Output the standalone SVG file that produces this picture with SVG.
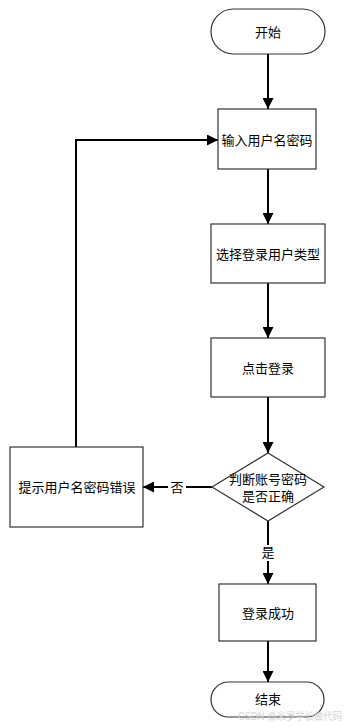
<svg xmlns="http://www.w3.org/2000/svg" width="347" height="727" viewBox="0 0 347 727">
<style>
.n{fill:#fff;stroke:#333;stroke-width:1.2}
.t{font-family:"Liberation Sans","Noto Sans CJK SC",sans-serif;font-size:13px;fill:#000;text-anchor:middle;dominant-baseline:central}
.c{fill:none;stroke:#000;stroke-width:2}
.wm{font-family:"Liberation Sans","Noto Sans CJK SC",sans-serif;font-size:10px;fill:#d4d4d4}
</style>
<defs>
<marker id="a" viewBox="0 0 10 10" refX="10" refY="5" markerWidth="5.5" markerHeight="5.5" orient="auto" markerUnits="strokeWidth">
<path d="M0,0 L10,5 L0,10 Z" fill="#000"/>
</marker>
</defs>
<rect width="347" height="727" fill="#fff"/>
<g id="connectors">
<path class="c" d="M268,54 V109" marker-end="url(#a)"/>
<path class="c" d="M268,169 V224" marker-end="url(#a)"/>
<path class="c" d="M268,283 V338" marker-end="url(#a)"/>
<path class="c" d="M268,397 V453" marker-end="url(#a)"/>
<path class="c" d="M212,487 H143" marker-end="url(#a)"/>
<path class="c" d="M268,521 V584" marker-end="url(#a)"/>
<path class="c" d="M268,641 V682" marker-end="url(#a)"/>
<path class="c" d="M76,447 V140 H218" marker-end="url(#a)"/>
<rect x="168" y="479" width="18" height="16" fill="#fff"/>
<text class="t" x="177" y="487">否</text>
<rect x="259" y="545" width="18" height="16" fill="#fff"/>
<text class="t" x="268" y="552">是</text>
</g>
<g id="start">
<rect class="n" x="211" y="9" width="114" height="45" rx="22.5"/>
<text class="t" x="268" y="32">开始</text>
</g>
<g id="input">
<rect class="n" x="218" y="109" width="98" height="60"/>
<text class="t" x="267" y="140">输入用户名密码</text>
</g>
<g id="select">
<rect class="n" x="211" y="224" width="114" height="59"/>
<text class="t" x="268" y="254">选择登录用户类型</text>
</g>
<g id="click">
<rect class="n" x="211" y="338" width="114" height="59"/>
<text class="t" x="268" y="368">点击登录</text>
</g>
<g id="decide">
<path class="n" d="M268,453 L324,487 L268,521 L212,487 Z"/>
<text class="t" x="268" y="479">判断账号密码</text>
<text class="t" x="268" y="496">是否正确</text>
</g>
<g id="error">
<rect class="n" x="10" y="447" width="133" height="80"/>
<text class="t" x="77" y="487">提示用户名密码错误</text>
</g>
<g id="success">
<rect class="n" x="219" y="584" width="97" height="57"/>
<text class="t" x="268" y="613">登录成功</text>
</g>
<g id="end">
<rect class="n" x="211" y="682" width="113" height="35" rx="17.5"/>
<text class="t" x="268" y="699">结束</text>
</g>
<text class="wm" x="238" y="720" textLength="104" lengthAdjust="spacingAndGlyphs">CSDN @米罗学长做代码</text>
</svg>
